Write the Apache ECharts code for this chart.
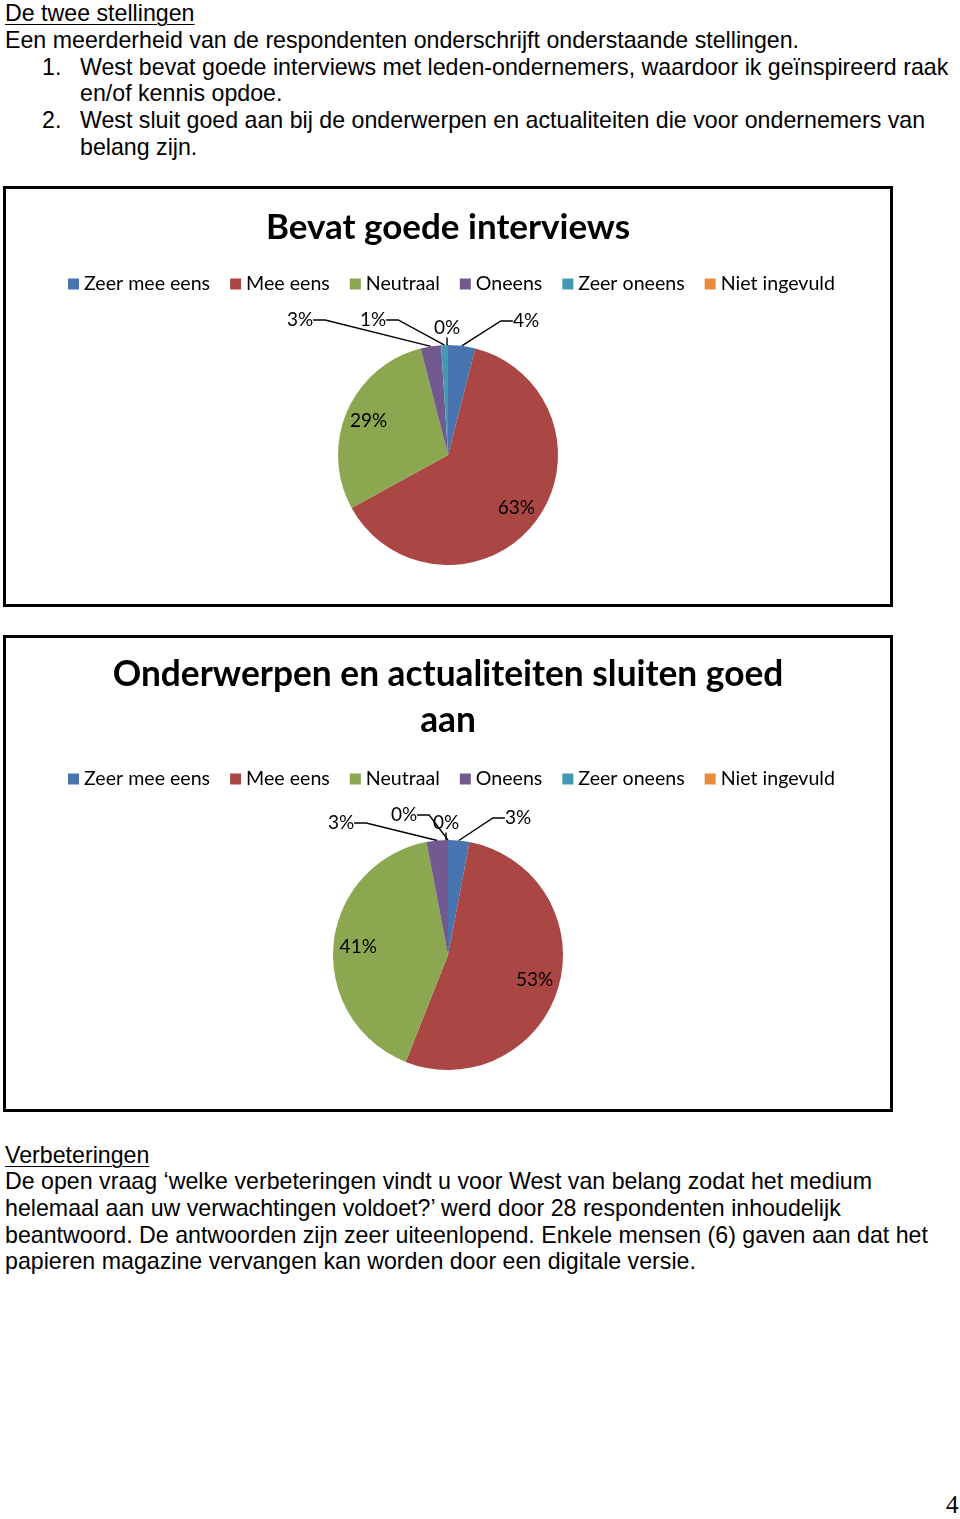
<!DOCTYPE html>
<html>
<head>
<meta charset="utf-8">
<script src="https://cdn.jsdelivr.net/npm/echarts@6/dist/echarts.min.js"></script>
<style>
  html, body { margin: 0; padding: 0; background: #fff; }
  body { width: 960px; height: 1519px; position: relative; overflow: hidden;
         font-family: "Liberation Sans", Arial, sans-serif; font-size: 23.2px; color: #000; }
  .ln { position: absolute; white-space: nowrap; line-height: 26.6px; height: 26.6px; }
  .u { text-decoration: underline; text-decoration-thickness: 1px; text-underline-offset: 3px; }
  .box { position: absolute; left: 3px; width: 890px; box-sizing: border-box; border: 3px solid #000; background: #fff; }
  .chart { width: 100%; height: 100%; }
  #pnum { position: absolute; left: 946px; top: 1491px; font-family: "Liberation Serif", "Times New Roman", serif; font-size: 25px; }
</style>
</head>
<body>
<div class="ln u" style="left:5px;top:0px;">De twee stellingen</div>
<div class="ln" style="left:5px;top:27px;">Een meerderheid van de respondenten onderschrijft onderstaande stellingen.</div>
<div class="ln" style="left:42px;top:54px;">1.</div>
<div class="ln" style="left:80px;top:54px;">West bevat goede interviews met leden-ondernemers, waardoor ik geïnspireerd raak</div>
<div class="ln" style="left:80px;top:80px;">en/of kennis opdoe.</div>
<div class="ln" style="left:42px;top:107px;">2.</div>
<div class="ln" style="left:80px;top:107px;">West sluit goed aan bij de onderwerpen en actualiteiten die voor ondernemers van</div>
<div class="ln" style="left:80px;top:134px;">belang zijn.</div>

<div class="box" style="top:186px;height:421px;"><div id="c1" class="chart"></div></div>
<div class="box" style="top:635px;height:477px;"><div id="c2" class="chart"></div></div>

<div class="ln u" style="left:5px;top:1142px;">Verbeteringen</div>
<div class="ln" style="left:5px;top:1168px;">De open vraag ‘welke verbeteringen vindt u voor West van belang zodat het medium</div>
<div class="ln" style="left:5px;top:1195px;">helemaal aan uw verwachtingen voldoet?’ werd door 28 respondenten inhoudelijk</div>
<div class="ln" style="left:5px;top:1222px;">beantwoord. De antwoorden zijn zeer uiteenlopend. Enkele mensen (6) gaven aan dat het</div>
<div class="ln" style="left:5px;top:1248px;">papieren magazine vervangen kan worden door een digitale versie.</div>

<div id="pnum">4</div>

<script>
// ---- data ----
const categories = ['Zeer mee eens', 'Mee eens', 'Neutraal', 'Oneens', 'Zeer oneens', 'Niet ingevuld'];
const interviewsValues = [4, 63, 29, 3, 1, 0];
const onderwerpenValues = [3, 53, 41, 3, 0, 0];
const title1 = 'Bevat goede interviews';
const title2 = 'Onderwerpen en actualiteiten sluiten goed\naan';

// ---- styling / layout ----
const colors = ['#4874B0', '#AA4643', '#8BA74F', '#72598F', '#4399B1', '#E98A3D'];
const FONT = 'Lato, "Open Sans", sans-serif';

function makeOption(title, values, cfg) {
  const data = categories.map((name, i) => {
    const inside = values[i] >= 10;
    return {
      name: name,
      value: values[i],
      label: { position: inside ? 'inside' : 'outside' },
      labelLine: { show: !inside }
    };
  });
  return {
    animation: false,
    color: colors,
    title: {
      text: title,
      left: 'center',
      top: cfg.titleTop,
      padding: 0,
      textStyle: { fontFamily: FONT, fontWeight: 'bold', fontSize: cfg.titleSize, lineHeight: 46, color: '#000' }
    },
    legend: {
      data: categories,
      left: cfg.legendLeft,
      top: cfg.legendTop,
      padding: 0,
      icon: 'rect',
      itemWidth: 11,
      itemHeight: 11,
      itemGap: 20,
      selectedMode: false,
      textStyle: { fontFamily: FONT, fontSize: 19.6, color: '#000', padding: [0, 0, 0, 0] }
    },
    series: [{
      type: 'pie',
      center: cfg.center,
      radius: cfg.radius,
      startAngle: 90,
      clockwise: true,
      avoidLabelOverlap: false,
      silent: true,
      data: data,
      itemStyle: { borderWidth: 0 },
      label: {
        show: true,
        formatter: '{c}%',
        fontFamily: FONT,
        fontSize: 19,
        color: '#000'
      },
      labelLine: {
        show: true,
        length: 8,
        length2: 12,
        smooth: false,
        lineStyle: { color: '#000', width: 1.4 }
      },
      labelLayout: function (p) {
        const cx = cfg.center[0], cy = cfg.center[1];
        const lx = p.labelRect.x + p.labelRect.width / 2;
        const ly = p.labelRect.y + p.labelRect.height / 2;
        if (values[p.dataIndex] >= 10) {
          return { x: cx + (lx - cx) * 1.49, y: cy + (ly - cy) * 1.49, align: 'center', verticalAlign: 'middle' };
        }
        const off = cfg.outside[p.dataIndex];
        return { x: cx + off[0], y: cy + off[1], align: 'center', verticalAlign: 'middle' };
      }
    }]
  };
}

const c1 = echarts.init(document.getElementById('c1'), null, { renderer: 'canvas' });
c1.setOption(makeOption(title1, interviewsValues, {
  titleTop: 16, titleSize: 35, legendTop: 85, legendLeft: 62,
  center: [442, 266], radius: 110,
  outside: { 0: [78, -134], 3: [-148, -135], 4: [-75, -135], 5: [-1, -127] }
}));

const c2 = echarts.init(document.getElementById('c2'), null, { renderer: 'canvas' });
c2.setOption(makeOption(title2, onderwerpenValues, {
  titleTop: 14, titleSize: 35.3, legendTop: 131, legendLeft: 62,
  center: [442, 317], radius: 115,
  outside: { 0: [70, -137], 3: [-107, -132], 4: [-44, -140], 5: [-2, -132] }
}));
</script>
</body>
</html>
